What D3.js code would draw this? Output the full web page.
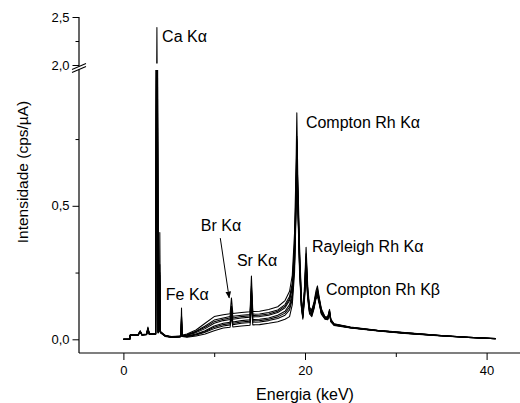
<!DOCTYPE html>
<html>
<head>
<meta charset="utf-8">
<script src="https://cdn.jsdelivr.net/npm/d3@7"></script>
<style>
  body { margin: 0; background: #fff; }
  svg { display: block; font-family: "Liberation Sans", Arial, sans-serif; }
</style>
</head>
<body>
<svg id="chart" width="520" height="403"></svg>
<script>
// ---- data ----
const energy = [0, 0.7, 0.75, 1.6, 1.85, 2.05, 2.55, 2.7, 2.85, 3.55,
  3.69, 3.83, 3.95, 4.01, 4.08, 4.6, 5.3, 6.2, 6.33, 6.4,
  6.47, 7, 8, 9, 10, 11, 11.75, 11.9, 12.05, 13,
  13.95, 14.1, 14.25, 15, 16, 17, 17.8, 18.3, 18.6, 18.85,
  19.0, 19.1, 19.2, 19.4, 19.6, 19.76, 19.95, 20.12, 20.3, 20.5,
  20.75, 21.0, 21.2, 21.37, 21.55, 21.8, 22.2, 22.5, 22.7, 22.85,
  23.2, 25, 28, 31, 35, 38, 41];

const specA = [0, 0, .017, .017, .032, .018, .02, .046, .022, .022,
  2.39, .03, .05, .40, .03, .015, .01, .012, .014, .117,
  .015, .02, .035, .06, .085, .092, .096, .155, .097, .1,
  .103, .237, .104, .105, .112, .122, .145, .18, .24, .4,
  .62, .848, .62, .35, .16, .1, .2, .345, .2, .12,
  .11, .14, .18, .2, .16, .115, .085, .083, .112, .075,
  .058, .046, .034, .025, .014, .008, .003];
const specB = [0, 0, .016, .016, .03, .017, .019, .042, .021, .021,
  1.85, .028, .04, .21, .028, .014, .009, .011, .013, .09,
  .014, .017, .03, .05, .072, .08, .085, .125, .086, .09,
  .093, .2, .094, .095, .1, .11, .13, .16, .21, .36,
  .55, .76, .57, .32, .15, .095, .18, .3, .18, .115,
  .105, .135, .17, .19, .155, .11, .083, .081, .108, .073,
  .057, .045, .033, .024, .014, .008, .003];
const specG = [0, 0, .016, .016, .03, .017, .019, .041, .021, .021,
  1.78, .028, .04, .24, .028, .014, .009, .011, .013, .085,
  .014, .016, .028, .045, .066, .075, .08, .12, .08, .085,
  .088, .19, .089, .09, .095, .105, .124, .152, .2, .345,
  .535, .75, .56, .31, .145, .092, .18, .31, .18, .112,
  .102, .132, .168, .185, .152, .108, .082, .08, .106, .072,
  .056, .045, .033, .024, .014, .008, .003];
const specC = [0, 0, .016, .016, .029, .017, .019, .04, .02, .02,
  1.7, .027, .04, .28, .027, .013, .009, .01, .012, .08,
  .013, .015, .025, .04, .06, .07, .074, .115, .075, .08,
  .083, .18, .084, .085, .09, .1, .118, .145, .19, .33,
  .52, .74, .55, .3, .14, .09, .18, .32, .18, .11,
  .1, .13, .165, .18, .15, .105, .081, .079, .104, .071,
  .056, .044, .033, .024, .013, .008, .002];
const specD = [0, 0, .015, .015, .028, .016, .018, .038, .02, .02,
  1.6, .026, .035, .25, .026, .012, .008, .01, .011, .07,
  .012, .012, .02, .032, .05, .06, .064, .105, .065, .07,
  .073, .17, .074, .075, .08, .09, .105, .13, .17, .3,
  .5, .72, .53, .28, .13, .085, .17, .28, .17, .105,
  .095, .125, .16, .175, .145, .1, .079, .077, .1, .069,
  .055, .043, .032, .023, .013, .007, .002];
const specH = [0, 0, .015, .015, .028, .016, .018, .037, .02, .02,
  1.55, .026, .035, .22, .026, .012, .008, .01, .011, .065,
  .012, .011, .018, .029, .045, .055, .059, .1, .06, .065,
  .068, .16, .069, .07, .075, .084, .098, .12, .16, .29,
  .49, .71, .525, .275, .128, .082, .165, .27, .165, .102,
  .092, .122, .158, .172, .142, .098, .078, .076, .098, .068,
  .054, .043, .032, .023, .013, .007, .002];
const specE = [0, 0, .015, .015, .027, .016, .018, .036, .019, .019,
  1.5, .025, .035, .19, .025, .012, .008, .009, .011, .06,
  .012, .01, .016, .026, .04, .05, .054, .095, .055, .06,
  .063, .15, .064, .065, .07, .078, .09, .11, .15, .28,
  .48, .7, .52, .27, .125, .08, .16, .26, .16, .1,
  .09, .12, .155, .17, .14, .097, .077, .075, .097, .067,
  .054, .043, .032, .023, .013, .007, .002];
const specF = [0, 0, .014, .014, .026, .015, .017, .034, .018, .018,
  1.4, .024, .03, .17, .024, .011, .007, .009, .01, .05,
  .011, .008, .012, .02, .032, .042, .045, .085, .046, .05,
  .053, .13, .054, .055, .06, .066, .075, .085, .13, .25,
  .45, .66, .5, .25, .12, .075, .15, .24, .15, .095,
  .085, .115, .15, .16, .135, .094, .075, .073, .094, .065,
  .052, .042, .031, .022, .012, .007, .002];
const spectra = [specA, specB, specG, specC, specD, specH, specE, specF];

const xTicks = [0, 20, 40];
const xMinorTicks = [10, 30];
const yTicksLow = [0, 0.5];
const yMinorLow = [0.25, 0.75];
const yTicksHigh = [2.0, 2.5];
const yMinorHigh = [2.25];

// peak labels: text, energy, intensity, panel
const peakText = ['Ca Kα', 'Fe Kα', 'Br Kα', 'Sr Kα', 'Compton Rh Kα', 'Rayleigh Rh Kα', 'Compton Rh Kβ'];
const peakE = [4.26, 4.67, 8.53, 12.5, 20.1, 20.76, 22.3];
const peakI = [2.24, 0.147, 0.404, 0.273, 0.791, 0.327, 0.166];
const peakPanel = ['high', 'low', 'low', 'low', 'low', 'low', 'low'];
// Br arrow: from label to the peak
const arrowE = [10.67, 11.65];
const arrowI = [0.379, 0.155];

// ---- layout ----
const W = 520, H = 403;
const AX_LEFT = 79, AX_BOTTOM = 353;
const svg = d3.select('#chart');
svg.append('rect').attr('width', W).attr('height', H).attr('fill', '#fff');

const x = d3.scaleLinear().domain([-5, 45]).range([78, 532]);
const yLow = d3.scaleLinear().domain([0, 1]).range([339.3, 72.3]);
const yHigh = d3.scaleLinear().domain([2.0, 2.5]).range([65, 17]);

const defs = svg.append('defs');
defs.append('clipPath').attr('id', 'clipLow').append('rect')
  .attr('x', AX_LEFT).attr('y', 70).attr('width', W).attr('height', AX_BOTTOM - 70);
defs.append('clipPath').attr('id', 'clipHigh').append('rect')
  .attr('x', AX_LEFT).attr('y', 0).attr('width', W).attr('height', 63.5);
defs.append('marker').attr('id', 'arrowHead').attr('viewBox', '0 0 10 10')
  .attr('refX', 9).attr('refY', 5).attr('markerWidth', 7).attr('markerHeight', 7)
  .attr('markerUnits', 'userSpaceOnUse').attr('orient', 'auto')
  .append('path').attr('d', 'M0,1 L10,5 L0,9 Z').attr('fill', '#000');

// spectra, drawn in both panels of the broken axis
function drawSpectra(yScale, clipId) {
  const line = d3.line().x((d, i) => x(energy[i])).y(d => yScale(d));
  svg.append('g').attr('clip-path', `url(#${clipId})`)
    .selectAll('path').data(spectra).join('path')
    .attr('d', line).attr('fill', 'none').attr('stroke', '#000')
    .attr('stroke-width', 1.05).attr('stroke-linejoin', 'round');
}
drawSpectra(yLow, 'clipLow');
drawSpectra(yHigh, 'clipHigh');

const fmt = d => d3.format('.1f')(d).replace('.', ',');
const tickFont = '13px';

// x axis
svg.append('g').attr('transform', `translate(0,${AX_BOTTOM})`)
  .call(d3.axisBottom(x).tickValues(xTicks).tickSize(7).tickPadding(6).tickFormat(d3.format('d')))
  .call(g => g.select('.domain').remove())
  .call(g => g.selectAll('text').style('font-size', tickFont).attr('fill', '#000')
    .style('font-family', '"Liberation Sans", Arial, sans-serif'));
svg.append('g').attr('transform', `translate(0,${AX_BOTTOM})`)
  .call(d3.axisBottom(x).tickValues(xMinorTicks).tickSize(4).tickFormat(''))
  .call(g => g.select('.domain').remove());
svg.append('line').attr('x1', AX_LEFT).attr('x2', W).attr('y1', AX_BOTTOM).attr('y2', AX_BOTTOM)
  .attr('stroke', '#000').attr('stroke-width', 1.2);

// y axis (lower and upper pieces)
function yAxis(scale, major, minor) {
  svg.append('g').attr('transform', `translate(${AX_LEFT},0)`)
    .call(d3.axisLeft(scale).tickValues(major).tickSize(6.5).tickPadding(3).tickFormat(fmt))
    .call(g => g.select('.domain').remove())
    .call(g => g.selectAll('text').style('font-size', tickFont).attr('fill', '#000')
      .style('font-family', '"Liberation Sans", Arial, sans-serif'));
  svg.append('g').attr('transform', `translate(${AX_LEFT},0)`)
    .call(d3.axisLeft(scale).tickValues(minor).tickSize(3.5).tickFormat(''))
    .call(g => g.select('.domain').remove());
}
yAxis(yLow, yTicksLow, yMinorLow);
yAxis(yHigh, yTicksHigh, yMinorHigh);
svg.append('line').attr('x1', AX_LEFT).attr('x2', AX_LEFT).attr('y1', yHigh(2.5)).attr('y2', AX_BOTTOM)
  .attr('stroke', '#000').attr('stroke-width', 1.2);

// axis break marks
svg.append('rect').attr('x', AX_LEFT - 2).attr('y', 66.5).attr('width', 4).attr('height', 3).attr('fill', '#fff');
[66.5, 69.5].forEach(yb => {
  svg.append('line').attr('x1', AX_LEFT - 7).attr('x2', AX_LEFT + 7)
    .attr('y1', yb + 3).attr('y2', yb - 3).attr('stroke', '#000').attr('stroke-width', 1.1);
});

// axis titles
svg.append('text').attr('x', x(20)).attr('y', 400).attr('text-anchor', 'middle')
  .style('font-size', '16px').text('Energia (keV)');
svg.append('text').attr('transform', 'translate(27.5,172) rotate(-90)').attr('text-anchor', 'middle')
  .style('font-size', '15.5px').text('Intensidade (cps/µA)');

// peak annotations
peakText.forEach((t, i) => {
  const ys = peakPanel[i] === 'high' ? yHigh : yLow;
  svg.append('text').attr('x', x(peakE[i])).attr('y', ys(peakI[i]))
    .style('font-size', '16px').attr('fill', '#000').text(t);
});
svg.append('line')
  .attr('x1', x(arrowE[0])).attr('y1', yLow(arrowI[0]))
  .attr('x2', x(arrowE[1])).attr('y2', yLow(arrowI[1]))
  .attr('stroke', '#000').attr('stroke-width', 1).attr('marker-end', 'url(#arrowHead)');
</script>
</body>
</html>
